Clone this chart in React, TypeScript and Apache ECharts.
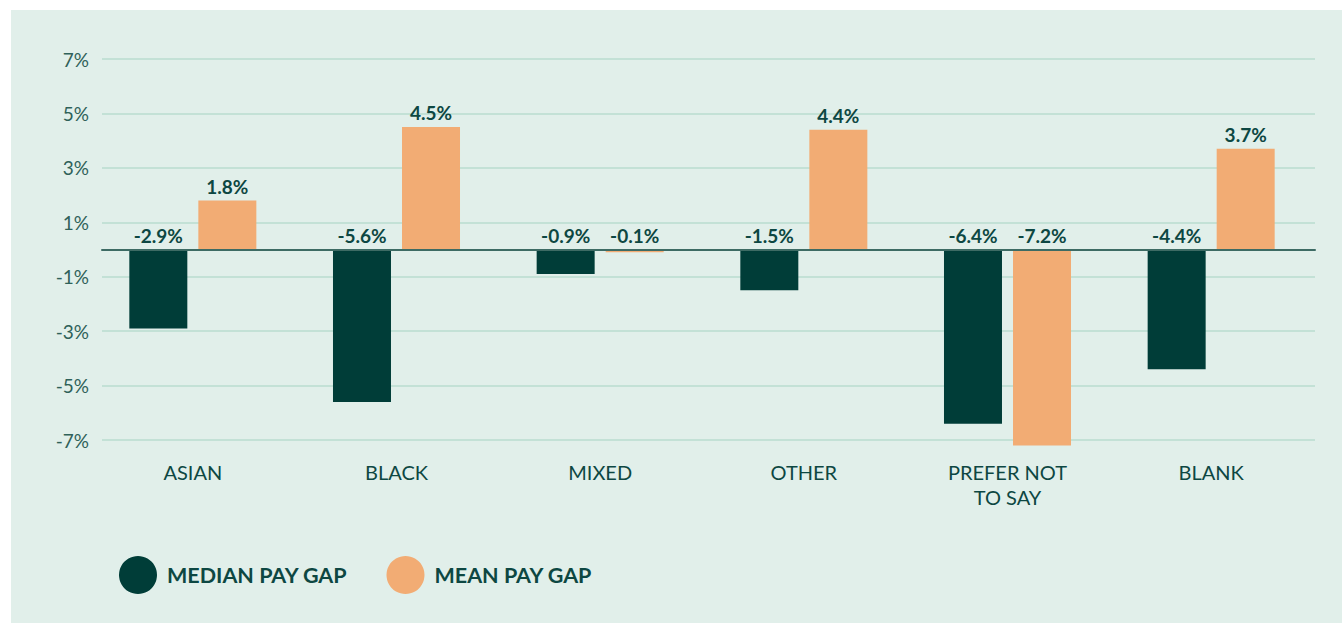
import React, { useEffect, useRef } from "react";
import * as echarts from "echarts";

const categories = ["ASIAN", "BLACK", "MIXED", "OTHER", "PREFER NOT\nTO SAY", "BLANK"];
const medianGap = [-2.9, -5.6, -0.9, -1.5, -6.4, -4.4];
const meanGap = [1.8, 4.5, -0.1, 4.4, -7.2, 3.7];
const yMin = -7;
const yMax = 7;

const DARK = "#003d38";
const ORANGE = "#f2ac74";
const TEXT = "#0d4742";
const FONT = "Lato, 'Open Sans', sans-serif";

export default function App() {
  const ref = useRef<HTMLDivElement>(null);
  useEffect(() => {
    document.body.style.margin = "0";
    if (!ref.current) return;
    const chart = echarts.init(ref.current, null, { renderer: "svg" });
    const labelStyle = {
      show: true,
      position: "top",
      distance: 5,
      color: TEXT,
      fontFamily: FONT,
      fontWeight: "bold",
      fontSize: 19,
      formatter: (p: any) => p.value.toFixed(1) + "%",
    };
    chart.setOption({
      animation: false,
      backgroundColor: "#ffffff",
      textStyle: { fontFamily: FONT },
      graphic: [
        {
          type: "rect",
          z: -10,
          silent: true,
          shape: { x: 11, y: 10, width: 1331, height: 613 },
          style: { fill: "#e1efea" },
        },
      ],
      grid: [
        { left: 102, right: 27, top: 59, bottom: 183 },
        { left: 91, right: 29, top: 59, bottom: 183 },
      ],
      legend: {
        left: 114,
        top: 551,
        itemWidth: 38,
        itemHeight: 38,
        itemGap: 39,
        icon: "circle",
        data: ["MEDIAN PAY GAP", "MEAN PAY GAP"],
        textStyle: {
          color: TEXT,
          fontFamily: FONT,
          fontWeight: "bold",
          fontSize: 21.5,
          padding: [0, 0, 0, 5],
        },
      },
      xAxis: [
        {
          type: "category",
          gridIndex: 0,
          data: categories,
          axisLine: { show: true, onZero: true, lineStyle: { color: "#3d6b64", width: 2 } },
          axisTick: { show: false },
          axisLabel: { show: false },
          z: 5,
        },
        {
          type: "category",
          gridIndex: 1,
          data: categories,
          axisLine: { show: false, onZero: false },
          axisTick: { show: false },
          axisLabel: {
            color: TEXT,
            fontFamily: FONT,
            fontSize: 20,
            lineHeight: 25,
            margin: 19,
            interval: 0,
          },
        },
      ],
      yAxis: [
        {
          type: "value",
          gridIndex: 0,
          min: yMin,
          max: yMax,
          interval: 1,
          axisLine: { show: false },
          axisTick: { show: false },
          axisLabel: {
            color: "#2f6159",
            fontFamily: FONT,
            fontSize: 19,
            margin: 13,
            formatter: (v: number) => (Math.abs(Math.round(v)) % 2 === 1 ? v + "%" : ""),
          },
          splitLine: {
            show: true,
            lineStyle: { color: ["#b9dccf", "rgba(0,0,0,0)"], width: 1.5 },
          },
        },
        {
          type: "value",
          gridIndex: 1,
          min: yMin,
          max: yMax,
          interval: 1,
          show: false,
          splitLine: { show: false },
        },
      ],
      series: [
        {
          name: "MEDIAN PAY GAP",
          type: "bar",
          xAxisIndex: 1,
          yAxisIndex: 1,
          data: medianGap,
          barWidth: 58,
          barGap: "19%",
          clip: false,
          itemStyle: { color: DARK },
          label: labelStyle,
        },
        {
          name: "MEAN PAY GAP",
          type: "bar",
          xAxisIndex: 1,
          yAxisIndex: 1,
          data: meanGap,
          barWidth: 58,
          barGap: "19%",
          clip: false,
          itemStyle: { color: ORANGE },
          label: labelStyle,
        },
      ],
    });
    return () => chart.dispose();
  }, []);
  return <div ref={ref} style={{ width: 1342, height: 623 }} />;
}
